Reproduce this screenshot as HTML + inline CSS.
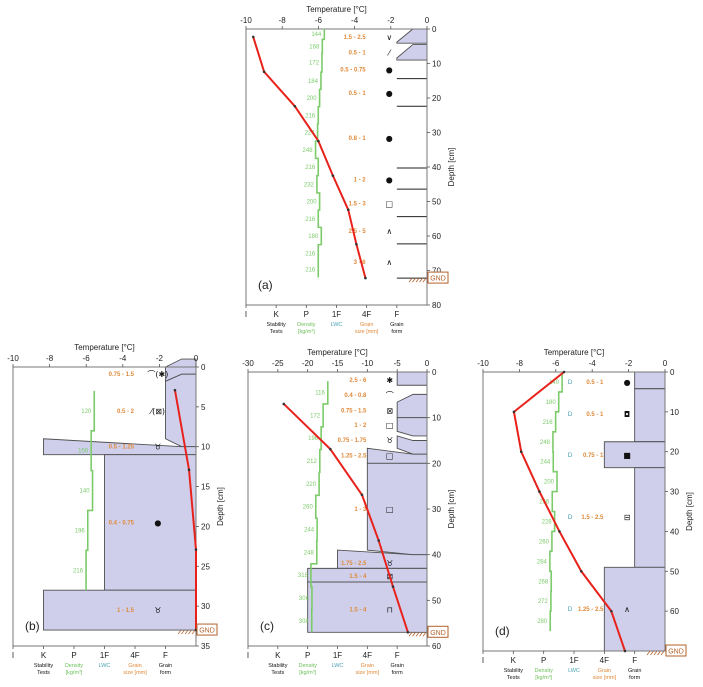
<!DOCTYPE html>
<html><head><meta charset="utf-8">
<style>
html,body{margin:0;padding:0;background:#fff;}
svg{display:block;font-family:"Liberation Sans","DejaVu Sans",sans-serif;}
</style></head>
<body>
<svg id="fig" width="703" height="687" viewBox="0 0 703 687" xmlns="http://www.w3.org/2000/svg"></svg>
<script>
// ---------- Panel (a) data ----------
const aTempDepth=[2.3,12.4,22.4,32.5,42.5,52.4,62.4,72.2];
const aTempVal=[-9.6,-9.0,-7.3,-6.0,-5.2,-4.35,-3.9,-3.4];
const aDensTop=[0,3,7,12.5,17.5,22.5,27.5,32.5,37.5,42.5,47.5,52.5,57.5,62.5,67.5];
const aDensBot=[3,7,12.5,17.5,22.5,27.5,32.5,37.5,42.5,47.5,52.5,57.5,62.5,67.5,72];
const aDensVal=[144,168,172,184,200,216,224,248,216,232,200,216,180,216,216];
const aDensLabel=["144","168","172","184","200","216","224","248","216","232","200","216","180","216","216"];
const aLayTopR=[0,4.5];
const aLayTopL=[3.8,8.4];
const aLayBotL=[4.1,9];
const aLayBotR=[4.1,9];
const aLayHard=[5,5];
const aSepDepth=[14.4,22.4,40.3,46.4,54.4,62.3,72.2];
const aGrainDepth=[2.3,6.8,11.8,18.6,31.6,43.6,50.6,58.6,67.6];
const aGrainSize=["1.5 - 2.5","0.5 - 1","0.5 - 0.75","0.5 - 1","0.8 - 1","1 - 2","1.5 - 3","2.5 - 5","3 - 6"];
const aGrainForm=["∨","⁄","●","●","●","●","□","∧","∧"];
const aLwc=[];
// ---------- Panel (b) data ----------
const bTempDepth=[2.9,12.9,22.9,33];
const bTempVal=[-1.15,-0.38,0,0];
const bDensTop=[3,8,13,18,23];
const bDensBot=[8,13,18,23,28];
const bDensVal=[120,156,140,196,216];
const bDensLabel=["120","156","140","196","216"];
const bLayTopR=[-1,0.9,10,11,28];
const bLayTopL=[0,1.8,9,11,28];
const bLayBotL=[1.8,9,11,28,33];
const bLayBotR=[0.9,10,11,28,33];
const bLayHard=[5,5,1,3,1];
const bSepDepth=[];
const bGrainDepth=[0.9,5.5,10,19.5,30.5];
const bGrainSize=["0.75 - 1.5","0.5 - 2","0.5 - 1.25","0.4 - 0.75","1 - 1.5"];
const bGrainForm=["⌒(✱)","⁄(⊠)","♉","●","♉"];
const bLwc=[];
// ---------- Panel (c) data ----------
const cTempDepth=[7,16.9,26.9,36.9,47,57];
const cTempVal=[-24.0,-16.2,-10.9,-8.1,-5.7,-3.2];
const cDensTop=[2,7,12,17,22,27,32,37,42,47,52];
const cDensBot=[7,12,17,22,27,32,37,42,47,52,57];
const cDensVal=[116,172,196,212,220,260,244,248,318,306,308];
const cDensLabel=["116","172","196","212","220","260","244","248","318","306","308"];
const cLayTopR=[0,4.9,10,15,18,20,40,43,46];
const cLayTopL=[0,6.6,10,14,16.7,20,39,43,46];
const cLayBotL=[2.9,10,13,16.7,20,39,43,46,57];
const cLayBotR=[2.9,10,14,18,20,40,43,46,57];
const cLayHard=[5,5,5,5,4,4,3,2,2];
const cSepDepth=[];
const cGrainDepth=[1.8,5,8.4,11.6,14.9,18.3,30,41.8,44.7,52];
const cGrainSize=["2.5 - 6","0.4 - 0.8","0.75 - 1.5","1 - 2","0.75 - 1.75","1.25 - 2.5","1 - 3","1.75 - 2.5","1.5 - 4","1.5 - 4"];
const cGrainForm=["✱","⌒","⊠","□","♉","□","□","♉","⊠","⊓"];
const cLwc=[];
// ---------- Panel (d) data ----------
const dTempDepth=[0,10,20,30,40,50,60,70];
const dTempVal=[-5.55,-8.3,-7.9,-6.9,-5.8,-4.6,-2.95,-2.2];
const dDensTop=[0,5,10,15,20,25,30,35,40,45,50,55,60];
const dDensBot=[5,10,15,20,25,30,35,40,45,50,55,60,65];
const dDensVal=[140,180,216,248,244,200,256,228,260,284,268,272,280];
const dDensLabel=["140","180","216","248","244","200","256","228","260","284","268","272","280"];
const dLayTopR=[0,4.2,17.5,24,49];
const dLayTopL=[0,4.2,17.5,24,49];
const dLayBotL=[4.2,17.5,24,49,70];
const dLayBotR=[4.2,17.5,24,49,70];
const dLayHard=[5,5,4,5,4];
const dSepDepth=[];
const dGrainDepth=[2.5,10.5,20.8,36.4,59.5];
const dGrainSize=["0.5 - 1","0.5 - 1","0.75 - 1","1.5 - 2.5","1.25 - 2.5"];
const dGrainForm=["●","◘","■","⊟","∧"];
const dLwc=["D","D","D","D","D"];

const panels=[
 {id:"a",L:246,R:427,T:29,B:305,dmax:80,dstep:10,tmin:-10,tstep:2,gnd:72.2,
  td:aTempDepth,tv:aTempVal,dt:aDensTop,db:aDensBot,dv:aDensVal,dl:aDensLabel,
  ltr:aLayTopR,ltl:aLayTopL,lbl:aLayBotL,lbr:aLayBotR,lh:aLayHard,sep:aSepDepth,
  gd:aGrainDepth,gs:aGrainSize,gf:aGrainForm,lwc:aLwc},
 {id:"b",L:13,R:196,T:367,B:646,dmax:35,dstep:5,tmin:-10,tstep:2,gnd:33,
  td:bTempDepth,tv:bTempVal,dt:bDensTop,db:bDensBot,dv:bDensVal,dl:bDensLabel,
  ltr:bLayTopR,ltl:bLayTopL,lbl:bLayBotL,lbr:bLayBotR,lh:bLayHard,sep:bSepDepth,
  gd:bGrainDepth,gs:bGrainSize,gf:bGrainForm,lwc:bLwc},
 {id:"c",L:248,R:427,T:372,B:646,dmax:60,dstep:10,tmin:-30,tstep:5,gnd:57,
  td:cTempDepth,tv:cTempVal,dt:cDensTop,db:cDensBot,dv:cDensVal,dl:cDensLabel,
  ltr:cLayTopR,ltl:cLayTopL,lbl:cLayBotL,lbr:cLayBotR,lh:cLayHard,sep:cSepDepth,
  gd:cGrainDepth,gs:cGrainSize,gf:cGrainForm,lwc:cLwc},
 {id:"d",L:483,R:665,T:372,B:651,dmax:70,dstep:10,tmin:-10,tstep:2,gnd:70,tickMax:60,
  td:dTempDepth,tv:dTempVal,dt:dDensTop,db:dDensBot,dv:dDensVal,dl:dDensLabel,
  ltr:dLayTopR,ltl:dLayTopL,lbl:dLayBotL,lbr:dLayBotR,lh:dLayHard,sep:dSepDepth,
  gd:dGrainDepth,gs:dGrainSize,gf:dGrainForm,lwc:dLwc}
];
const hardLabels=["I","K","P","1F","4F","F"];

const NS="http://www.w3.org/2000/svg";
const svg=document.getElementById("fig");
function mk(tag,attrs,parent,text){
  const e=document.createElementNS(NS,tag);
  for(const k in attrs) e.setAttribute(k,attrs[k]);
  if(text!==undefined) e.textContent=text;
  parent.appendChild(e);
  return e;
}

panels.forEach(p=>{
  const g=mk("g",{},svg);
  
  
  const W=p.R-p.L, hs=W/6;
  const y=d=>p.T+d*(p.B-p.T)/p.dmax;
  const xt=t=>p.L+(t-p.tmin)*W/(0-p.tmin);
  const xh=h=>p.L+h*hs;
  const xrho=r=>xh(3)-r/1000*2.8*hs;
  const xc=xh(5.53);

  p.lh.forEach((h,i)=>{
    const x=xh(h);
    const pts=[[p.R,y(p.ltr[i])],[xc,y(p.ltr[i])],[x,y(p.ltl[i])],[x,y(p.lbl[i])],[xc,y(p.lbr[i])],[p.R,y(p.lbr[i])]];
    const poly=mk("polygon",{points:pts.map(a=>a.join(",")).join(" "),fill:"#cfcfec",stroke:"#505050","stroke-width":"0.9"},g);
    
    
  });
  p.sep.forEach(d=>{
    const l=mk("line",{x1:xh(5),x2:p.R,y1:y(d),y2:y(d),stroke:"#222","stroke-width":"1"},g);
    
    
  });

  const fr=mk("rect",{x:p.L,y:p.T,width:W,height:p.B-p.T,fill:"none",stroke:"#777","stroke-width":"1"},g);
  
  

  for(let t=p.tmin;t<=0;t+=p.tstep){
    mk("line",{x1:xt(t),x2:xt(t),y1:p.T,y2:p.T-3,stroke:"#555","stroke-width":"0.8"},g);
    const tl=mk("text",{x:xt(t),y:p.T-6,"font-size":"8","text-anchor":"middle",fill:"#222"},g,String(t));
    
    
  }
  const tt=mk("text",{x:(p.L+p.R)/2,y:p.T-17,"font-size":"8","text-anchor":"middle",fill:"#222"},g,"Temperature [°C]");
  
  

  const dm=p.tickMax!==undefined?p.tickMax:p.dmax;
  for(let d=0;d<=dm;d+=p.dstep){
    mk("line",{x1:p.R,x2:p.R+3,y1:y(d),y2:y(d),stroke:"#555","stroke-width":"0.8"},g);
    const dl=mk("text",{x:p.R+5,y:y(d)+3,"font-size":"8",fill:"#222"},g,String(d));
    
    
  }
  const dyc=(p.T+p.B)/2;
  const dtt=mk("text",{x:p.R+27,y:dyc,"font-size":"8","text-anchor":"middle",fill:"#222",transform:`rotate(-90 ${p.R+27} ${dyc})`},g,"Depth [cm]");
  
  

  hardLabels.forEach((s,i)=>{
    mk("line",{x1:xh(i),x2:xh(i),y1:p.B,y2:p.B+3,stroke:"#555","stroke-width":"0.8"},g);
    const hl=mk("text",{x:xh(i),y:p.B+12,"font-size":"8","text-anchor":"middle",fill:"#222"},g,s);
    
    
  });
  const heads=[[1,"Stability","Tests","#111"],[2,"Density","[kg/m³]","#6cc05a"],[3,"LWC","","#4aa3b5"],[4,"Grain","size [mm]","#e08a3a"],[5,"Grain","form","#111"]];
  heads.forEach(hd=>{
    const t=mk("text",{x:xh(hd[0]),y:p.B+21,"font-size":"5.5","text-anchor":"middle",fill:hd[3]},g,hd[1]);
    
    
    if(hd[2]){const t2=mk("text",{x:xh(hd[0]),y:p.B+28,"font-size":"5.5","text-anchor":"middle",fill:hd[3]},g,hd[2]);
      
      }
  });

  let dpath="";
  p.dv.forEach((r,i)=>{
    const x=xrho(r);
    dpath+=(i===0?"M":"L")+x+","+y(p.dt[i])+" L"+x+","+y(p.db[i])+" ";
  });
  const dp=mk("path",{d:dpath,fill:"none",stroke:"#7ccb6a","stroke-width":"1.6"},g);
  
  
  p.dl.forEach((s,i)=>{
    const yy=(y(p.dt[i])+y(p.db[i]))/2+2;
    const t=mk("text",{x:xrho(p.dv[i])-3,y:yy,"font-size":"6","text-anchor":"end",fill:"#7ccb6a"},g,s);
    
    
  });

  p.gd.forEach((d,i)=>{
    const t=mk("text",{x:xh(4)-1,y:y(d)+2,"font-size":"6","font-weight":"bold","text-anchor":"end",fill:"#e08a3a"},g,p.gs[i]);
    
    
    const f=mk("text",{x:xh(4.75),y:y(d)+3,"font-size":"8","text-anchor":"middle",fill:"#111","font-family":"DejaVu Sans, sans-serif"},g,p.gf[i]);
    
    
    if(p.lwc[i]){
      const l=mk("text",{x:xh(2.87),y:y(d)+2,"font-size":"6.5","text-anchor":"middle",fill:"#4aa3b5"},g,p.lwc[i]);
      
      
    }
  });

  const tp=p.tv.map((t,i)=>xt(t)+","+y(p.td[i])).join(" ");
  const tl=mk("polyline",{points:tp,fill:"none",stroke:"#e8221b","stroke-width":"2"},g);
  
  
  p.tv.forEach((t,i)=>{
    const c=mk("circle",{cx:xt(t),cy:y(p.td[i]),r:"1.3",fill:"#333"},g);
    
    
  });

  const gy=y(p.gnd);
  for(let k=0;k<5;k++){
    mk("line",{x1:p.R-18+k*3.5,y1:gy+4,x2:p.R-15+k*3.5,y2:gy,stroke:"#b5602a","stroke-width":"0.8"},g);
  }
  const gb=mk("rect",{x:p.R+1,y:gy-6,width:20,height:11,fill:"#fff",stroke:"#b5602a","stroke-width":"1"},g);
  
  
  const gt=mk("text",{x:p.R+11,y:gy+2.5,"font-size":"7","text-anchor":"middle",fill:"#b5602a"},g,"GND");
  
  

  const pl=mk("text",{x:p.L+12,y:p.B-16,"font-size":"12",fill:"#222"},g,"("+p.id+")");
  
  
});
</script>
</body></html>
